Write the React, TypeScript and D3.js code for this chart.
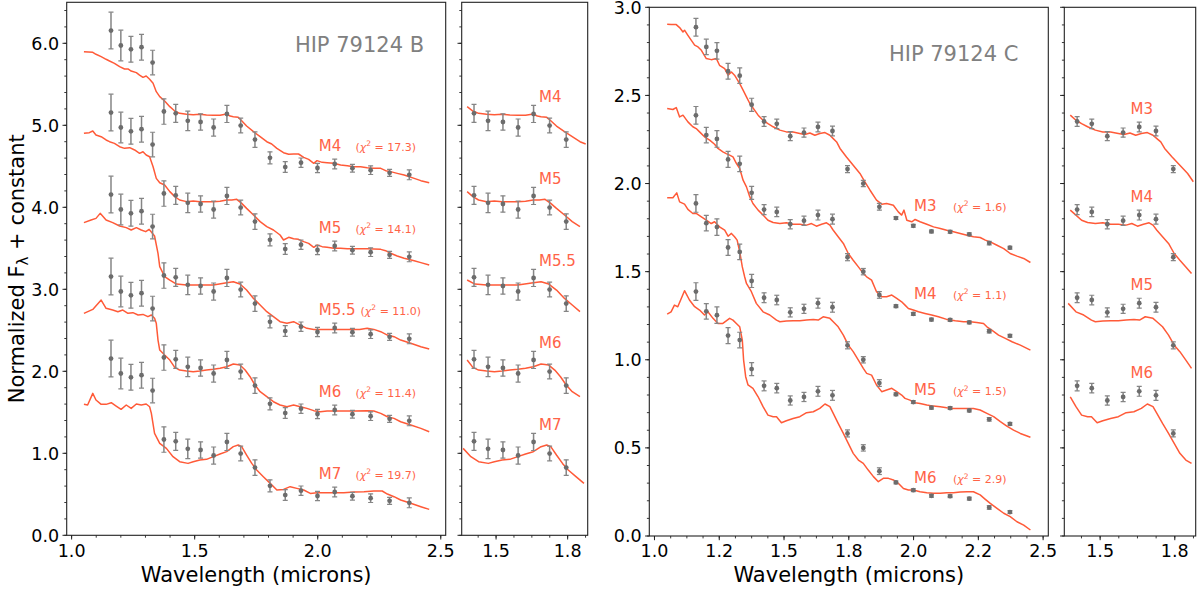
import React from 'react';
import * as d3 from 'd3';

// ---------- Observed photometry (same wavelengths for B and C) ----------
const WAVE = [1.160, 1.200, 1.241, 1.284, 1.329, 1.375, 1.423, 1.472, 1.524, 1.577, 1.631, 1.687, 1.745, 1.806, 1.868, 1.932, 1.999, 2.069, 2.141, 2.215, 2.292, 2.372];
const B_FLUX = [2.155, 1.973, 1.927, 1.953, 1.765, 1.168, 1.146, 1.054, 1.040, 0.973, 1.138, 0.997, 0.826, 0.603, 0.491, 0.544, 0.479, 0.528, 0.477, 0.453, 0.420, 0.396];
const B_ERR = [0.224, 0.187, 0.157, 0.157, 0.150, 0.155, 0.110, 0.118, 0.100, 0.104, 0.104, 0.090, 0.094, 0.073, 0.065, 0.057, 0.057, 0.060, 0.047, 0.053, 0.043, 0.060];
const C_FLUX = [1.387, 1.275, 1.253, 1.137, 1.112, 0.947, 0.852, 0.839, 0.769, 0.789, 0.821, 0.798, 0.582, 0.500, 0.368, 0.304, 0.260, 0.228, 0.226, 0.212, 0.162, 0.136];
const C_ERR = [0.050, 0.044, 0.047, 0.045, 0.044, 0.037, 0.028, 0.027, 0.026, 0.026, 0.028, 0.028, 0.020, 0.018, 0.019, 0.008, 0.008, 0.008, 0.008, 0.008, 0.010, 0.008];

const B_TYPES = ['M4', 'M5', 'M5.5', 'M6', 'M7'];
const B_OFFSETS = [4, 3, 2, 1, 0];
const B_CHI2 = ['17.3', '14.1', '11.0', '11.4', '19.7'];
const C_TYPES = ['M3', 'M4', 'M5', 'M6'];
const C_OFFSETS = [1.5, 1.0, 0.5, 0];
const C_CHI2 = ['1.6', '1.1', '1.5', '2.9'];

// ---------- Template spectra (wavelength, flux incl. offset) ----------
const B_M4: [number, number][] = [[1.050,5.898],[1.086,5.890],[1.099,5.866],[1.120,5.837],[1.140,5.805],[1.154,5.784],[1.174,5.756],[1.195,5.715],[1.215,5.687],[1.229,5.687],[1.242,5.662],[1.263,5.642],[1.276,5.613],[1.290,5.585],[1.303,5.601],[1.317,5.561],[1.331,5.512],[1.344,5.410],[1.358,5.349],[1.378,5.296],[1.399,5.227],[1.419,5.174],[1.439,5.146],[1.467,5.134],[1.494,5.130],[1.521,5.134],[1.548,5.126],[1.576,5.122],[1.603,5.122],[1.630,5.138],[1.644,5.113],[1.657,5.105],[1.677,5.097],[1.691,5.056],[1.711,4.991],[1.739,4.922],[1.766,4.861],[1.793,4.800],[1.813,4.772],[1.834,4.719],[1.861,4.666],[1.882,4.646],[1.902,4.650],[1.922,4.650],[1.943,4.609],[1.963,4.585],[1.984,4.536],[1.997,4.569],[2.018,4.548],[2.038,4.544],[2.065,4.536],[2.093,4.516],[2.120,4.508],[2.147,4.495],[2.174,4.495],[2.201,4.483],[2.228,4.475],[2.256,4.475],[2.276,4.447],[2.296,4.435],[2.323,4.414],[2.351,4.394],[2.392,4.353],[2.419,4.325],[2.453,4.300]];
const B_M5: [number, number][] = [[1.050,4.902],[1.072,4.910],[1.086,4.930],[1.099,4.882],[1.120,4.861],[1.140,4.821],[1.154,4.800],[1.174,4.780],[1.195,4.739],[1.215,4.719],[1.236,4.727],[1.256,4.699],[1.276,4.658],[1.290,4.678],[1.303,4.638],[1.317,4.617],[1.331,4.495],[1.344,4.353],[1.358,4.300],[1.378,4.272],[1.399,4.191],[1.419,4.130],[1.439,4.089],[1.467,4.069],[1.494,4.077],[1.521,4.069],[1.548,4.069],[1.576,4.069],[1.603,4.073],[1.630,4.089],[1.651,4.089],[1.671,4.097],[1.691,4.048],[1.711,3.987],[1.739,3.906],[1.766,3.825],[1.793,3.764],[1.820,3.723],[1.847,3.662],[1.861,3.601],[1.882,3.634],[1.902,3.617],[1.922,3.609],[1.943,3.581],[1.963,3.560],[1.984,3.512],[1.997,3.540],[2.018,3.520],[2.038,3.512],[2.065,3.500],[2.093,3.500],[2.120,3.496],[2.147,3.496],[2.174,3.496],[2.201,3.496],[2.228,3.492],[2.256,3.487],[2.276,3.471],[2.296,3.439],[2.323,3.406],[2.351,3.378],[2.392,3.349],[2.419,3.325],[2.453,3.296]];
const B_M55: [number, number][] = [[1.050,3.813],[1.079,3.845],[1.099,3.865],[1.116,3.926],[1.140,3.845],[1.167,3.813],[1.195,3.772],[1.222,3.752],[1.242,3.723],[1.263,3.752],[1.283,3.723],[1.301,3.703],[1.315,3.731],[1.328,3.683],[1.337,3.650],[1.351,3.439],[1.358,3.276],[1.378,3.154],[1.399,3.113],[1.426,3.064],[1.467,3.052],[1.521,3.052],[1.576,3.052],[1.630,3.081],[1.657,3.093],[1.684,3.064],[1.711,2.991],[1.739,2.889],[1.766,2.808],[1.793,2.727],[1.820,2.666],[1.847,2.605],[1.875,2.585],[1.902,2.605],[1.929,2.564],[1.956,2.524],[1.984,2.511],[2.050,2.511],[2.120,2.511],[2.170,2.511],[2.201,2.524],[2.228,2.511],[2.256,2.483],[2.283,2.442],[2.310,2.422],[2.337,2.381],[2.378,2.341],[2.419,2.300],[2.453,2.272]];
const B_M6: [number, number][] = [[1.050,2.707],[1.086,2.755],[1.120,2.869],[1.140,2.768],[1.167,2.747],[1.188,2.727],[1.208,2.747],[1.229,2.707],[1.249,2.715],[1.270,2.686],[1.290,2.694],[1.310,2.666],[1.324,2.686],[1.337,2.646],[1.344,2.585],[1.351,2.381],[1.358,2.259],[1.378,2.198],[1.399,2.137],[1.419,2.048],[1.439,2.015],[1.467,2.003],[1.494,1.995],[1.521,2.003],[1.548,2.015],[1.576,2.024],[1.603,2.036],[1.630,2.056],[1.657,2.089],[1.684,2.076],[1.705,2.015],[1.725,1.934],[1.745,1.833],[1.766,1.751],[1.793,1.690],[1.820,1.629],[1.847,1.589],[1.875,1.568],[1.902,1.589],[1.929,1.568],[1.956,1.548],[1.984,1.520],[2.011,1.507],[2.038,1.515],[2.093,1.515],[2.147,1.515],[2.201,1.520],[2.228,1.515],[2.256,1.487],[2.283,1.446],[2.310,1.426],[2.337,1.385],[2.378,1.345],[2.419,1.304],[2.453,1.263]];
const B_M7: [number, number][] = [[1.050,1.597],[1.065,1.589],[1.086,1.731],[1.099,1.650],[1.120,1.597],[1.140,1.597],[1.161,1.617],[1.181,1.576],[1.201,1.536],[1.222,1.589],[1.242,1.548],[1.263,1.601],[1.283,1.589],[1.303,1.601],[1.317,1.568],[1.324,1.487],[1.337,1.243],[1.358,1.121],[1.385,1.060],[1.412,0.959],[1.439,0.898],[1.473,0.877],[1.494,0.898],[1.521,0.918],[1.548,0.926],[1.576,0.959],[1.603,0.991],[1.630,1.020],[1.657,1.081],[1.677,1.101],[1.691,1.081],[1.711,0.979],[1.732,0.877],[1.752,0.796],[1.779,0.715],[1.807,0.633],[1.834,0.552],[1.861,0.560],[1.888,0.593],[1.915,0.572],[1.943,0.552],[1.970,0.511],[1.997,0.520],[2.024,0.520],[2.065,0.520],[2.106,0.520],[2.147,0.528],[2.188,0.532],[2.228,0.540],[2.262,0.540],[2.283,0.503],[2.310,0.471],[2.337,0.430],[2.378,0.390],[2.419,0.349],[2.453,0.316]];

const C_M3: [number, number][] = [[1.049,2.904],[1.064,2.902],[1.084,2.902],[1.097,2.885],[1.110,2.860],[1.116,2.870],[1.129,2.841],[1.155,2.785],[1.168,2.775],[1.181,2.756],[1.200,2.709],[1.219,2.703],[1.239,2.709],[1.251,2.671],[1.271,2.652],[1.284,2.615],[1.297,2.633],[1.309,2.615],[1.329,2.567],[1.342,2.530],[1.355,2.492],[1.368,2.454],[1.400,2.388],[1.419,2.359],[1.438,2.340],[1.458,2.322],[1.484,2.303],[1.509,2.293],[1.535,2.293],[1.561,2.284],[1.580,2.278],[1.600,2.287],[1.619,2.274],[1.638,2.284],[1.658,2.289],[1.677,2.274],[1.690,2.255],[1.703,2.236],[1.716,2.199],[1.741,2.151],[1.767,2.104],[1.793,2.057],[1.812,2.010],[1.832,1.962],[1.857,1.906],[1.877,1.883],[1.896,1.887],[1.922,1.877],[1.941,1.839],[1.954,1.821],[1.963,1.849],[1.974,1.792],[1.993,1.783],[2.006,1.796],[2.025,1.783],[2.051,1.769],[2.077,1.754],[2.103,1.745],[2.128,1.735],[2.154,1.726],[2.180,1.717],[2.206,1.707],[2.231,1.698],[2.257,1.694],[2.277,1.679],[2.296,1.669],[2.322,1.650],[2.348,1.631],[2.373,1.603],[2.399,1.588],[2.425,1.575],[2.451,1.552]];
const C_M4: [number, number][] = [[1.049,2.426],[1.071,2.420],[1.084,2.431],[1.097,2.378],[1.110,2.388],[1.129,2.350],[1.148,2.322],[1.161,2.312],[1.174,2.293],[1.193,2.265],[1.213,2.246],[1.232,2.223],[1.245,2.199],[1.264,2.180],[1.277,2.170],[1.290,2.161],[1.303,2.151],[1.316,2.114],[1.329,2.085],[1.342,2.019],[1.355,1.981],[1.368,1.924],[1.380,1.887],[1.400,1.849],[1.419,1.821],[1.438,1.792],[1.458,1.779],[1.484,1.773],[1.509,1.777],[1.535,1.769],[1.561,1.769],[1.587,1.764],[1.606,1.773],[1.625,1.758],[1.645,1.769],[1.664,1.777],[1.677,1.764],[1.690,1.735],[1.709,1.698],[1.729,1.660],[1.748,1.603],[1.767,1.565],[1.787,1.527],[1.806,1.490],[1.819,1.471],[1.838,1.452],[1.857,1.386],[1.877,1.358],[1.896,1.358],[1.916,1.367],[1.935,1.348],[1.954,1.329],[1.967,1.310],[1.980,1.291],[1.999,1.282],[2.019,1.272],[2.044,1.263],[2.070,1.254],[2.096,1.244],[2.128,1.229],[2.161,1.221],[2.193,1.216],[2.219,1.216],[2.244,1.212],[2.270,1.206],[2.283,1.187],[2.302,1.168],[2.328,1.140],[2.354,1.121],[2.380,1.102],[2.412,1.083],[2.451,1.055]];
const C_M5: [number, number][] = [[1.049,1.919],[1.071,1.919],[1.086,1.947],[1.097,1.896],[1.116,1.883],[1.129,1.853],[1.148,1.830],[1.161,1.830],[1.181,1.811],[1.200,1.792],[1.219,1.773],[1.232,1.783],[1.251,1.754],[1.271,1.735],[1.284,1.701],[1.297,1.717],[1.309,1.698],[1.319,1.679],[1.329,1.613],[1.339,1.527],[1.348,1.471],[1.355,1.433],[1.374,1.386],[1.393,1.320],[1.419,1.272],[1.445,1.254],[1.471,1.225],[1.484,1.216],[1.509,1.220],[1.535,1.221],[1.561,1.221],[1.587,1.225],[1.613,1.229],[1.632,1.225],[1.651,1.244],[1.677,1.235],[1.690,1.216],[1.709,1.187],[1.729,1.140],[1.748,1.083],[1.767,1.046],[1.787,0.998],[1.806,0.951],[1.819,0.923],[1.838,0.913],[1.857,0.857],[1.877,0.819],[1.896,0.828],[1.916,0.838],[1.935,0.819],[1.954,0.800],[1.967,0.781],[1.986,0.771],[2.006,0.756],[2.025,0.752],[2.051,0.743],[2.077,0.737],[2.103,0.734],[2.128,0.728],[2.154,0.724],[2.180,0.724],[2.206,0.724],[2.231,0.724],[2.257,0.715],[2.283,0.696],[2.309,0.677],[2.335,0.649],[2.360,0.624],[2.386,0.601],[2.412,0.582],[2.451,0.560]];
const C_M6: [number, number][] = [[1.049,1.259],[1.064,1.272],[1.077,1.310],[1.090,1.301],[1.116,1.392],[1.135,1.339],[1.155,1.301],[1.174,1.282],[1.193,1.254],[1.206,1.272],[1.226,1.235],[1.245,1.206],[1.264,1.206],[1.290,1.235],[1.303,1.225],[1.316,1.206],[1.329,1.187],[1.339,1.112],[1.344,0.998],[1.352,0.904],[1.361,0.857],[1.380,0.838],[1.400,0.790],[1.419,0.734],[1.438,0.686],[1.458,0.677],[1.471,0.677],[1.490,0.643],[1.509,0.654],[1.535,0.667],[1.561,0.677],[1.587,0.700],[1.613,0.705],[1.638,0.724],[1.658,0.749],[1.677,0.734],[1.690,0.696],[1.709,0.639],[1.729,0.582],[1.748,0.526],[1.767,0.469],[1.787,0.431],[1.806,0.412],[1.825,0.374],[1.845,0.337],[1.864,0.308],[1.883,0.327],[1.903,0.327],[1.922,0.318],[1.941,0.299],[1.961,0.270],[1.980,0.261],[1.999,0.261],[2.025,0.251],[2.051,0.246],[2.077,0.242],[2.103,0.242],[2.128,0.246],[2.154,0.246],[2.180,0.250],[2.206,0.251],[2.231,0.251],[2.257,0.233],[2.277,0.208],[2.296,0.185],[2.322,0.157],[2.348,0.129],[2.373,0.110],[2.399,0.081],[2.425,0.062],[2.451,0.034]];

const B_MODELS = [B_M4, B_M5, B_M55, B_M6, B_M7];
const C_MODELS = [C_M3, C_M4, C_M5, C_M6];

// H-band window shown in the zoomed panels (microns)
const ZOOM_MODEL_RANGE = [1.385, 1.815];
const ZOOM_DATA_RANGE = [1.39, 1.80];

// ---------- Tick values / labels ----------
const B_XTICKS = [1.0, 1.5, 2.0, 2.5];
const B_XTICK_LABELS = ['1.0', '1.5', '2.0', '2.5'];
const B_YTICKS = [0, 1, 2, 3, 4, 5, 6];
const B_YTICK_LABELS = ['0.0', '1.0', '2.0', '3.0', '4.0', '5.0', '6.0'];
const C_XTICKS = [1.0, 1.25, 1.5, 1.75, 2.0, 2.25, 2.5];
const C_XTICK_LABELS = ['1.0', '1.2', '1.5', '1.8', '2.0', '2.2', '2.5'];
const C_YTICKS = [0, 0.5, 1.0, 1.5, 2.0, 2.5, 3.0];
const C_YTICK_LABELS = ['0.0', '0.5', '1.0', '1.5', '2.0', '2.5', '3.0'];
const Z_XTICKS = [1.5, 1.75];
const Z_XTICK_LABELS = ['1.5', '1.8'];

// ---------- Styling ----------
const FONT = 'DejaVu Sans';
const RED = '#ff5a38';
const RED_TXT = '#ff6347';
const GREY_BAR = '#858585';
const GREY_DOT = '#6c6c6c';
const AX = '#222';

type Panel = {
  id: string;
  left: number; right: number; top: number; bottom: number;
  xd: [number, number]; yd: [number, number];
  xticks: number[]; xlabels: string[]; xminor: number[];
  yticks: number[]; ylabels: string[] | null; yminor: number[];
  models: [number, number][][];
  zoom: boolean;
  flux: number[]; err: number[]; offsets: number[];
};

function PanelView({ p, children }: { p: Panel; children?: (x: any, y: any) => React.ReactNode }) {
  const x = d3.scaleLinear().domain(p.xd).range([p.left, p.right]);
  const y = d3.scaleLinear().domain(p.yd).range([p.bottom, p.top]);
  const line = d3.line<[number, number]>().x(d => x(d[0])).y(d => y(d[1]));
  const inX = (v: number) => v >= p.xd[0] - 1e-9 && v <= p.xd[1] + 1e-9;
  const inY = (v: number) => v >= p.yd[0] - 1e-9 && v <= p.yd[1] + 1e-9;
  const models = p.zoom
    ? p.models.map(m => m.filter(d => d[0] >= ZOOM_MODEL_RANGE[0] && d[0] <= ZOOM_MODEL_RANGE[1]))
    : p.models;
  const idx = WAVE.map((w, k) => k).filter(k => !p.zoom || (WAVE[k] >= ZOOM_DATA_RANGE[0] && WAVE[k] <= ZOOM_DATA_RANGE[1]));
  return (
    <g>
      <defs>
        <clipPath id={'clip-' + p.id}>
          <rect x={p.left} y={p.top} width={p.right - p.left} height={p.bottom - p.top} />
        </clipPath>
      </defs>
      <g clipPath={`url(#clip-${p.id})`}>
        {models.map((m, i) => (
          <path key={'m' + i} d={line(m) || ''} fill="none" stroke={RED} strokeWidth={1.5} strokeLinejoin="round" />
        ))}
        {p.offsets.map((off, si) => (
          <g key={'s' + si}>
            {idx.map((k) => {
              const cx = x(WAVE[k]);
              const yl = y(p.flux[k] + off - p.err[k]);
              const yh = y(p.flux[k] + off + p.err[k]);
              return (
                <g key={k}>
                  <line x1={cx} x2={cx} y1={yl} y2={yh} stroke={GREY_BAR} strokeWidth={1.5} />
                  <line x1={cx - 2.5} x2={cx + 2.5} y1={yl} y2={yl} stroke={GREY_BAR} strokeWidth={1.2} />
                  <line x1={cx - 2.5} x2={cx + 2.5} y1={yh} y2={yh} stroke={GREY_BAR} strokeWidth={1.2} />
                  <circle cx={cx} cy={y(p.flux[k] + off)} r={2.4} fill={GREY_DOT} />
                </g>
              );
            })}
          </g>
        ))}
      </g>
      {children ? children(x, y) : null}
      {p.xminor.filter(inX).map((v, i) => (
        <line key={'xm' + i} x1={x(v)} x2={x(v)} y1={p.bottom} y2={p.bottom + 2.4} stroke={AX} strokeWidth={0.9} />
      ))}
      {p.xticks.map((v, i) => (
        <g key={'xt' + i}>
          <line x1={x(v)} x2={x(v)} y1={p.bottom} y2={p.bottom + 4.2} stroke={AX} strokeWidth={1} />
          <text x={x(v)} y={557.3} textAnchor="middle" fontFamily={FONT} fontSize={17.5} fill="#000">{p.xlabels[i]}</text>
        </g>
      ))}
      {p.yminor.filter(inY).map((v, i) => (
        <line key={'ym' + i} x1={p.left - 2.4} x2={p.left} y1={y(v)} y2={y(v)} stroke={AX} strokeWidth={0.9} />
      ))}
      {p.yticks.map((v, i) => (
        <g key={'yt' + i}>
          <line x1={p.left - 4.2} x2={p.left} y1={y(v)} y2={y(v)} stroke={AX} strokeWidth={1} />
          {p.ylabels ? (
            <text x={p.left - 7.6} y={y(v)} dy="0.36em" textAnchor="end" fontFamily={FONT} fontSize={17.5} fill="#000">{p.ylabels[i]}</text>
          ) : null}
        </g>
      ))}
      <rect x={p.left} y={p.top} width={p.right - p.left} height={p.bottom - p.top} fill="none" stroke={AX} strokeWidth={1.1} />
    </g>
  );
}

function Chi({ x, y, val }: { x: number; y: number; val: string }) {
  return (
    <text x={x} y={y} fontFamily={FONT} fontSize={11} fill={RED_TXT}>
      (<tspan fontStyle="italic">χ</tspan>
      <tspan dy={-4.5} fontSize={7.5}>2</tspan>
      <tspan dy={4.5}> = {val})</tspan>
    </text>
  );
}

export default function App() {
  const range = (a: number, b: number, s: number) => d3.range(Math.round((b - a) / s) + 1).map(i => +(a + i * s).toFixed(5));
  const bb: Panel = {
    id: 'bb', left: 66.7, right: 445.7, top: 2.3, bottom: 535.3,
    xd: [0.98, 2.52], yd: [0, 6.5],
    xticks: B_XTICKS, xlabels: B_XTICK_LABELS, xminor: range(1.0, 2.5, 0.1),
    yticks: B_YTICKS, ylabels: B_YTICK_LABELS, yminor: range(0, 6.4, 0.2),
    models: B_MODELS, zoom: false, flux: B_FLUX, err: B_ERR, offsets: B_OFFSETS,
  };
  const bz: Panel = {
    ...bb, id: 'bz', left: 461.7, right: 587.7, xd: [1.38, 1.82],
    xticks: Z_XTICKS, xlabels: Z_XTICK_LABELS, xminor: range(1.375, 1.875, 0.0625),
    ylabels: null, zoom: true,
  };
  const cb: Panel = {
    id: 'cb', left: 649.3, right: 1048.3, top: 7.3, bottom: 536,
    xd: [0.98, 2.52], yd: [0, 3.0],
    xticks: C_XTICKS, xlabels: C_XTICK_LABELS, xminor: range(1.0, 2.5, 0.0625),
    yticks: C_YTICKS, ylabels: C_YTICK_LABELS, yminor: range(0, 3.0, 0.1),
    models: C_MODELS, zoom: false, flux: C_FLUX, err: C_ERR, offsets: C_OFFSETS,
  };
  const cz: Panel = {
    ...cb, id: 'cz', left: 1064.3, right: 1195.7, xd: [1.38, 1.82],
    xticks: Z_XTICKS, xlabels: Z_XTICK_LABELS, xminor: range(1.375, 1.875, 0.0625),
    ylabels: null, zoom: true,
  };
  const C_LABEL_DY = [0.345, 0.345, 0.3, 0.3];

  return (
    <svg width={1200} height={589} viewBox="0 0 1200 589"
      style={{ position: 'absolute', left: 0, top: 0, background: '#fff' }}
      xmlns="http://www.w3.org/2000/svg">
      <rect x={0} y={0} width={1200} height={589} fill="#fff" />
      <PanelView p={bb}>
        {(x, y) => (
          <g>
            <text x={bb.left + 0.943 * (bb.right - bb.left)} y={bb.bottom - 0.907 * (bb.bottom - bb.top)}
              textAnchor="end" fontFamily={FONT} fontSize={21} fill="#808080">HIP 79124 B</text>
            {B_TYPES.map((t, i) => (
              <g key={t}>
                <text x={x(2.004)} y={y(B_OFFSETS[i] + 0.69)} fontFamily={FONT} fontSize={15} fill={RED_TXT}>{t}</text>
                <Chi x={x(t.length > 2 ? 2.174 : 2.153)} y={y(B_OFFSETS[i] + 0.69)} val={B_CHI2[i]} />
              </g>
            ))}
          </g>
        )}
      </PanelView>
      <PanelView p={bz}>
        {(x, y) => (
          <g>
            {B_TYPES.map((t, i) => (
              <text key={t} x={x(1.65)} y={y(B_OFFSETS[i] + 1.29)} fontFamily={FONT} fontSize={15} fill={RED_TXT}>{t}</text>
            ))}
          </g>
        )}
      </PanelView>
      <PanelView p={cb}>
        {(x, y) => (
          <g>
            <text x={cb.left + 0.925 * (cb.right - cb.left)} y={cb.bottom - 0.899 * (cb.bottom - cb.top)}
              textAnchor="end" fontFamily={FONT} fontSize={21} fill="#808080">HIP 79124 C</text>
            {C_TYPES.map((t, i) => (
              <g key={t}>
                <text x={x(2.002)} y={y(C_OFFSETS[i] + C_LABEL_DY[i])} fontFamily={FONT} fontSize={15} fill={RED_TXT}>{t}</text>
                <Chi x={x(2.152)} y={y(C_OFFSETS[i] + C_LABEL_DY[i])} val={C_CHI2[i]} />
              </g>
            ))}
          </g>
        )}
      </PanelView>
      <PanelView p={cz}>
        {(x, y) => (
          <g>
            {C_TYPES.map((t, i) => (
              <text key={t} x={x(1.602)} y={y(C_OFFSETS[i] + 0.894)} fontFamily={FONT} fontSize={15} fill={RED_TXT}>{t}</text>
            ))}
          </g>
        )}
      </PanelView>
      <text x={(bb.left + bb.right) / 2} y={581.7} textAnchor="middle" fontFamily={FONT} fontSize={21} fill="#000">Wavelength (microns)</text>
      <text x={(cb.left + cb.right) / 2} y={581.7} textAnchor="middle" fontFamily={FONT} fontSize={21} fill="#000">Wavelength (microns)</text>
      <text transform={`translate(24, ${(bb.top + bb.bottom) / 2}) rotate(-90)`} textAnchor="middle" fontFamily={FONT} fontSize={21} fill="#000">
        Normalized F<tspan dy={4} fontSize={15}>λ</tspan><tspan dy={-4}> + constant</tspan>
      </text>
    </svg>
  );
}
